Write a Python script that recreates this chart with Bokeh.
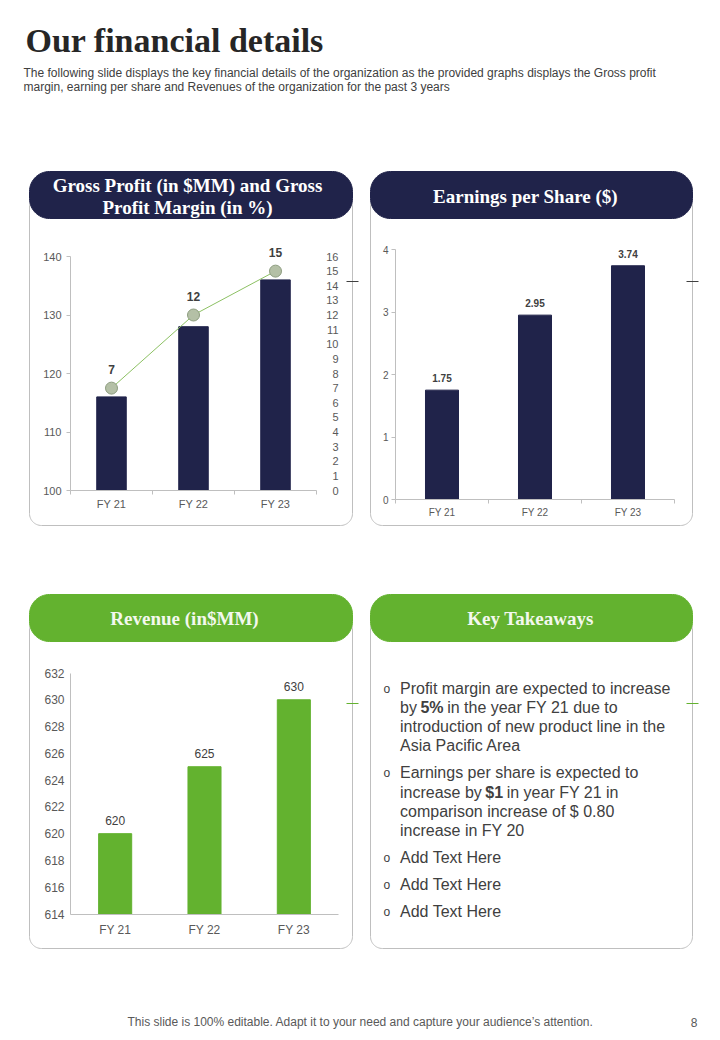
import numpy as np
from bokeh.plotting import figure
from bokeh.models import Range1d, LinearAxis, FixedTicker
from bokeh.core.properties import value
from bokeh.embed import file_html
from bokeh.resources import INLINE

# ---------------- data ----------------
categories = ["FY 21", "FY 22", "FY 23"]
gross_profit = [116, 128, 136]
gross_margin = [7, 12, 15]
gp_ticks = [100, 110, 120, 130, 140]
margin_ticks = list(range(0, 17))
eps = [1.75, 2.95, 3.74]
eps_ticks = [0, 1, 2, 3, 4]
revenue = [620, 625, 630]
rev_ticks = [614, 616, 618, 620, 622, 624, 626, 628, 630, 632]

NAVY = "#20234a"
GREEN = "#63b22f"
OUTLINE = "#bfbfbf"
AXIS = "#bfbfbf"
LBL = "#595959"
DARK = "#404040"
SANS = "Liberation Sans"
SERIF = "Liberation Serif"

W, H = 720, 1040
X0, X1 = 0, W      # page pixel extents of the canvas
Y0, Y1 = 0, H

p = figure(width=W, height=H, x_range=Range1d(X0, X1), y_range=Range1d(Y1, Y0),
           output_backend="svg", toolbar_location=None, x_axis_type=None, y_axis_type=None,
           min_border=0, outline_line_color=None)
p.background_fill_color = "white"
p.border_fill_color = "white"


def x_map(n, pa, pb):
    k = n / (pb - pa)
    return Range1d((X0 - pa) * k, (X1 - pa) * k)


def y_map(v0, p0, v1, p1):
    k = (v1 - v0) / (p0 - p1)
    return Range1d(v0 + (p0 - Y1) * k, v0 + (p0 - Y0) * k)


def rrect(x0, y0, x1, y1, r, n=16):
    xs, ys = [], []
    for cx, cy, a0 in [(x0 + r, y0 + r, np.pi), (x1 - r, y0 + r, 1.5 * np.pi),
                       (x1 - r, y1 - r, 0.0), (x0 + r, y1 - r, 0.5 * np.pi)]:
        t = np.linspace(a0, a0 + 0.5 * np.pi, n)
        xs.extend(cx + r * np.cos(t))
        ys.extend(cy + r * np.sin(t))
    xs.append(xs[0]); ys.append(ys[0])
    return xs, ys


def txt(x, baseline_y, s, size, color=DARK, font=SANS, style="normal", align="left"):
    # place text by its baseline: convert to the em-box middle
    y = baseline_y - 0.35 * size
    p.text(x=[x], y=[y], text=[s], text_font=value(font), text_font_size=f"{size}px",
           text_font_style=style, text_color=color, text_align=align, text_baseline="middle")


# approximate Arial advance widths (em) for measuring inline runs
ARIAL = {" ": .278, "b": .556, "y": .5, "i": .222, "n": .556, "c": .5, "r": .333, "e": .556,
         "a": .556, "s": .5, "t": .278, "h": .556, "F": .611, "Y": .667, "2": .556, "1": .556,
         "d": .556, "u": .556, "o": .556}
ARIAL_B = {"5": .556, "%": .889, "$": .556, "1": .556}


def tw(s, size, bold=False):
    tab = ARIAL_B if bold else ARIAL
    return sum(tab.get(c, .556) for c in s) * size


# ---------------- title ----------------
txt(25, 52, "Our financial details", 34, color="#262626", font=SERIF, style="bold")
txt(23, 77, "The following slide displays the key financial details of the organization as the provided graphs displays the Gross profit",
    12, color=DARK)
txt(23, 91, "margin, earning per share and Revenues of the organization for the past 3 years", 12, color=DARK)

# ---------------- panels ----------------
panels = [
    (29, 352, 171, 218, 525, NAVY),
    (370, 692, 171, 218, 525, NAVY),
    (29, 352, 594, 641, 948, GREEN),
    (370, 692, 594, 641, 948, GREEN),
]
for (a, b, pt, pb, bot, col) in panels:
    xs, ys = rrect(a, (pt + pb) / 2, b, bot, 12)
    p.line(xs, ys, line_color=OUTLINE, line_width=1)
    xs, ys = rrect(a, pt, b, pb, 20)
    p.patch(xs, ys, fill_color=col, line_color=col)
    my = pt + 110 if col == NAVY else pt + 109
    p.segment(x0=[b - 6], y0=[my], x1=[b + 6], y1=[my], line_color=DARK if col == NAVY else GREEN, line_width=1)

HEAD = "#ffffff"
HEAD_G = "#f3f8ee"
txt(187, 192, "Gross Profit (in $MM) and Gross", 19, color=HEAD, font=SERIF, style="bold", align="center")
txt(187, 214, "Profit Margin (in %)", 19, color=HEAD, font=SERIF, style="bold", align="center")
txt(525, 203, "Earnings per Share ($)", 19, color=HEAD, font=SERIF, style="bold", align="center")
txt(184, 625, "Revenue (in$MM)", 19, color=HEAD_G, font=SERIF, style="bold", align="center")
txt(530, 625, "Key Takeaways", 19, color=HEAD_G, font=SERIF, style="bold", align="center")

# ---------------- chart helpers ----------------
n = len(categories)
centers = [i + 0.5 for i in range(n)]
overrides = {c: lab for c, lab in zip(centers, categories)}


def chart_axes(name, ticks, lo, hi, size, ystand, xstand, ticks_on=True):
    ya = LinearAxis(x_range_name=name + "_x", y_range_name=name + "_y", fixed_location=0,
                    bounds=(lo, hi), ticker=FixedTicker(ticks=ticks),
                    axis_line_color=AXIS, major_tick_line_color=AXIS if ticks_on else None,
                    major_tick_out=4 if ticks_on else 0, major_tick_in=0, minor_tick_line_color=None,
                    major_label_standoff=ystand, major_label_text_font=SANS,
                    major_label_text_font_size=size, major_label_text_color=LBL)
    p.add_layout(ya, "left")
    xa = LinearAxis(x_range_name=name + "_x", y_range_name=name + "_y", fixed_location=lo,
                    bounds=(0, n), ticker=FixedTicker(ticks=centers, minor_ticks=list(range(n + 1))),
                    major_label_overrides=overrides, axis_line_color=AXIS,
                    major_tick_line_color=None, major_tick_out=0, major_tick_in=0,
                    minor_tick_line_color=AXIS if ticks_on else None, minor_tick_out=4, minor_tick_in=0,
                    major_label_standoff=xstand, major_label_text_font=SANS,
                    major_label_text_font_size=size, major_label_text_color=LBL)
    p.add_layout(xa, "below")


# ---- Gross profit chart ----
GPX = (70, 316)
p.extra_x_ranges["gp_x"] = x_map(n, *GPX)
p.extra_y_ranges["gp_y"] = y_map(gp_ticks[0], 490, gp_ticks[-1], 256)
p.extra_y_ranges["gp_pct"] = y_map(margin_ticks[0], 490, margin_ticks[-1], 256)
p.vbar(x=centers, top=gross_profit, bottom=gp_ticks[0], width=0.36, x_range_name="gp_x", y_range_name="gp_y",
       fill_color=NAVY, line_color=NAVY)
chart_axes("gp", gp_ticks, gp_ticks[0], gp_ticks[-1], "11px", 5, 3)
pct_axis = LinearAxis(x_range_name="gp_x", y_range_name="gp_pct",
                      fixed_location=(338 - GPX[0]) * n / (GPX[1] - GPX[0]),
                      bounds=(margin_ticks[0], margin_ticks[-1]), ticker=FixedTicker(ticks=margin_ticks),
                      axis_line_color=None, major_tick_line_color=None, minor_tick_line_color=None,
                      major_tick_out=0, major_tick_in=0, major_label_standoff=0,
                      major_label_text_font=SANS, major_label_text_font_size="11px", major_label_text_color=LBL)
p.add_layout(pct_axis, "left")
p.line(x=centers, y=gross_margin, x_range_name="gp_x", y_range_name="gp_pct", line_color="#8cc063", line_width=1)
p.scatter(x=centers, y=gross_margin, x_range_name="gp_x", y_range_name="gp_pct", size=12,
          fill_color="#b4c0a6", line_color="#8c9c7e", line_width=1)
p.text(x=centers, y=gross_margin, text=[str(v) for v in gross_margin], x_range_name="gp_x", y_range_name="gp_pct",
       y_offset=-19, text_align="center", text_baseline="middle", text_font=value(SANS),
       text_font_size="12px", text_font_style="bold", text_color=DARK)

# ---- EPS chart ----
EPSX = (395, 674)
p.extra_x_ranges["eps_x"] = x_map(n, *EPSX)
p.extra_y_ranges["eps_y"] = y_map(eps_ticks[0], 499, eps_ticks[-1], 249)
p.vbar(x=centers, top=eps, bottom=eps_ticks[0], width=0.355, x_range_name="eps_x", y_range_name="eps_y",
       fill_color=NAVY, line_color=NAVY)
chart_axes("eps", eps_ticks, eps_ticks[0], eps_ticks[-1], "10px", 3, 3)
p.text(x=centers, y=eps, text=[f"{v:.2f}" for v in eps], x_range_name="eps_x", y_range_name="eps_y",
       y_offset=-12, text_align="center", text_baseline="middle", text_font=value(SANS),
       text_font_size="10px", text_font_style="bold", text_color=DARK)

# ---- Revenue chart ----
REVX = (70, 338)
p.extra_x_ranges["rev_x"] = x_map(n, *REVX)
p.extra_y_ranges["rev_y"] = y_map(rev_ticks[0], 913.5, rev_ticks[-1], 672.5)
p.vbar(x=centers, top=revenue, bottom=rev_ticks[0], width=0.37, x_range_name="rev_x", y_range_name="rev_y",
       fill_color=GREEN, line_color=GREEN)
chart_axes("rev", rev_ticks, rev_ticks[0], rev_ticks[-1], "12px", 6, 5, ticks_on=False)
p.text(x=centers, y=revenue, text=[str(v) for v in revenue], x_range_name="rev_x", y_range_name="rev_y",
       y_offset=-13, text_align="center", text_baseline="middle", text_font=value(SANS),
       text_font_size="12px", text_color=DARK)

# ---------------- key takeaways ----------------
BX, TX, FS = 383, 399.5, 16
lines = [
    (694, [("Profit margin are expected to increase", False)], True),
    (713, [("by", False), ("5%", True), ("in the year FY 21 due to", False)], False),
    (732, [("introduction  of new product line in the", False)], False),
    (751, [("Asia Pacific Area", False)], False),
    (778, [("Earnings per share is expected to", False)], True),
    (797.5, [("increase by", False), ("$1", True), ("in year FY 21 in", False)], False),
    (817, [("comparison  increase of $ 0.80", False)], False),
    (836, [("increase in FY 20", False)], False),
    (863, [("Add Text Here", False)], True),
    (890, [("Add Text Here", False)], True),
    (917, [("Add Text Here", False)], True),
]
for y, segs, bullet in lines:
    if bullet:
        txt(BX, y - 1, "o", 12, color=DARK)
    x = TX
    for s, bold in segs:
        txt(x, y, s, FS, color=DARK, style="bold" if bold else "normal")
        x += tw(s, FS, bold) + tw(" ", FS) * 0.8

# ---------------- footer ----------------
txt(360, 1026, "This slide is 100% editable. Adapt it to your need and capture your audience\u2019s attention.",
    12, color=LBL, align="center")
txt(697, 1026, "8", 12, color=LBL, align="right")

open("out.html", "w").write(file_html(p, INLINE))
